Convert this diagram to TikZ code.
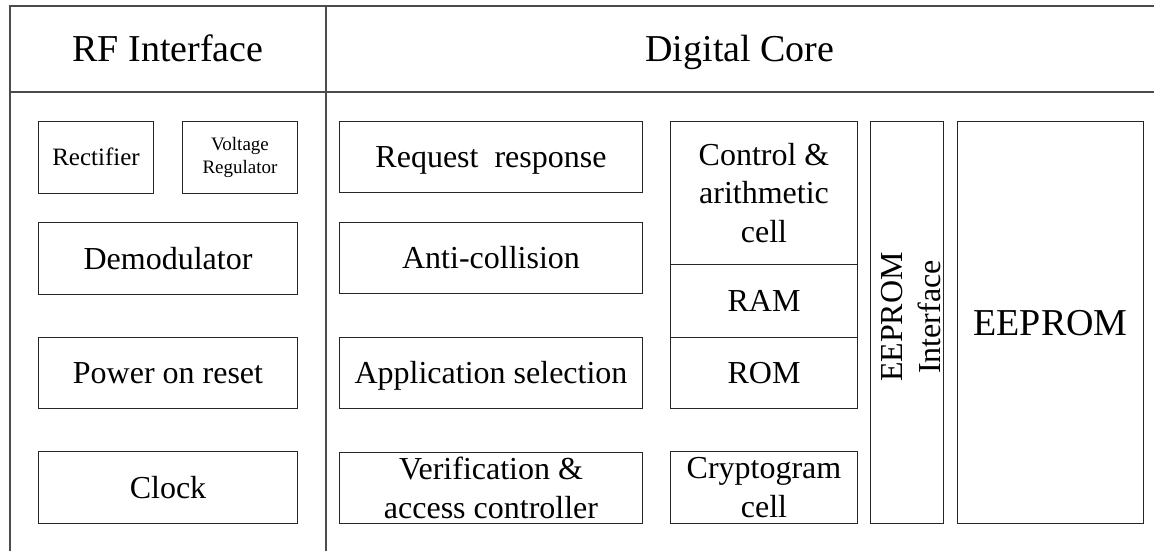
\documentclass[tikz,border=0pt]{standalone}
\usepackage{fontspec}
\setmainfont{Liberation Serif}
\begin{document}
\begin{tikzpicture}[x=1pt,y=-1pt,
  frame/.style={draw=black!70, line width=1.2pt},
  box/.style={draw=black!85, line width=1pt, inner sep=0pt, anchor=north west, align=center,
    font=\fontsize{32}{38.4}\selectfont},
  one/.style={text height=21pt, text depth=0pt},
  head/.style={inner sep=0pt, text height=25pt, text depth=0pt, font=\fontsize{38}{45}\selectfont}]
\useasboundingbox (0,0) rectangle (1154,551);
% frame
\coordinate (fbl) at (10,551);
\coordinate (ftl) at (10,6);
\coordinate (ftr) at (1154,6);
\coordinate (hl) at (10,92);
\coordinate (hr) at (1154,92);
\coordinate (dt) at (326,6);
\coordinate (db) at (326,551);
\draw[frame] (fbl) -- (ftl) -- (ftr);
\draw[frame] (hl) -- (hr);
\draw[frame] (dt) -- (db);
% headers
\node[head] (rfh) at (168,49) {RF Interface};
\node[head] (dch) at (740,49) {Digital Core};
% RF column
\node[box, minimum width=115, minimum height=72, text height=16.5pt, text depth=0pt, font=\fontsize{25}{30}\selectfont] (rect) at (38,121) {Rectifier};
\node[box, minimum width=115, minimum height=72, font=\fontsize{19}{23}\selectfont] (vreg) at (182,121) {Voltage\\Regulator};
\node[box, one, minimum width=259, minimum height=72] (demod) at (38,222) {Demodulator};
\node[box, one, minimum width=259, minimum height=71] (por) at (38,337) {Power on reset};
\node[box, one, minimum width=259, minimum height=72] (clk) at (38,451) {Clock};
% middle column
\node[box, one, minimum width=303, minimum height=71] (req) at (339,121) {Request\ \ response};
\node[box, one, minimum width=303, minimum height=71] (anti) at (339,222) {Anti-collision};
\node[box, one, minimum width=303, minimum height=71] (app) at (339,337) {Application selection};
\node[box, minimum width=303, minimum height=71] (ver) at (339,452) {Verification \&\\access controller};
% right column
\node[box, minimum width=187, minimum height=143] (ctrl) at (670,121) {Control \&\\arithmetic\\cell};
\node[box, one, minimum width=187, minimum height=73] (ram) at (670,264) {RAM};
\node[box, one, minimum width=187, minimum height=71] (rom) at (670,337) {ROM};
\node[box, minimum width=187, minimum height=72] (crypt) at (670,451) {Cryptogram\\cell};
% EEPROM interface
\node[box, minimum width=73, minimum height=402] (eif) at (870,121) {};
\node[rotate=90, align=center, inner sep=0pt, font=\fontsize{32}{38.4}\selectfont] (eiftxt) at (911,317) {EEPROM\\Interface};
% EEPROM
\node[box, minimum width=186, minimum height=402, text height=25pt, text depth=0pt, font=\fontsize{38}{45}\selectfont] (eep) at (957,121) {EEPROM};
\end{tikzpicture}
\end{document}
